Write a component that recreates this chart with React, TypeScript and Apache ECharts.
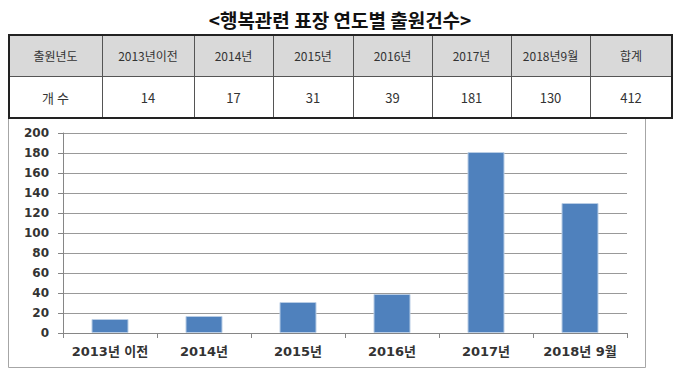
import React, { useEffect, useRef } from "react";
import * as echarts from "echarts";

const title = "<행복관련 표장 연도별 출원건수>";
const tableHeader = ["출원년도", "2013년이전", "2014년", "2015년", "2016년", "2017년", "2018년9월", "합계"];
const tableRow = ["개 수", "14", "17", "31", "39", "181", "130", "412"];
const categories = ["2013년 이전", "2014년", "2015년", "2016년", "2017년", "2018년 9월"];
const values = [14, 17, 31, 39, 181, 130];
const yTicks = { min: 0, max: 200, interval: 20 };

const colX = [9, 102, 194, 273, 353, 432, 511, 590, 672];
const tTop = 35, tMid = 76, tBot = 118;

export default function App() {
  const ref = useRef<HTMLDivElement>(null);
  useEffect(() => {
    document.body.style.margin = "0";
    const chart = echarts.init(ref.current!, null, { renderer: "svg" });
    const g: any[] = [];
    // chart frame
    g.push({ type: "rect", shape: { x: 8.5, y: 116.5, width: 637, height: 251 }, style: { fill: "#fff", stroke: "#a6a6a6", lineWidth: 1 }, z: 0 });
    // title
    g.push({ type: "text", x: 340, y: 19, style: { text: title, font: "bold 19px 'Noto Sans CJK KR'", fill: "#111", align: "center", verticalAlign: "middle" } });
    // table backgrounds
    g.push({ type: "rect", shape: { x: colX[0], y: tTop, width: colX[8] - colX[0], height: tMid - tTop }, style: { fill: "#d9d9d9" } });
    g.push({ type: "rect", shape: { x: colX[0], y: tMid, width: colX[8] - colX[0], height: tBot - tMid }, style: { fill: "#fff" } });
    // inner lines
    for (let i = 1; i < colX.length - 1; i++) {
      g.push({ type: "line", shape: { x1: colX[i] + 0.5, y1: tTop, x2: colX[i] + 0.5, y2: tBot }, style: { stroke: "#555", lineWidth: 1 } });
    }
    g.push({ type: "line", shape: { x1: colX[0], y1: tMid + 0.5, x2: colX[8], y2: tMid + 0.5 }, style: { stroke: "#555", lineWidth: 1 } });
    g.push({ type: "rect", shape: { x: colX[0], y: tTop, width: colX[8] - colX[0], height: tBot - tTop }, style: { fill: "none", stroke: "#222", lineWidth: 2 } });
    for (let i = 0; i < tableHeader.length; i++) {
      const cx = (colX[i] + colX[i + 1]) / 2;
      g.push({ type: "text", x: cx, y: (tTop + tMid) / 2, style: { text: tableHeader[i], font: "12px 'Noto Sans CJK KR'", fill: "#333", align: "center", verticalAlign: "middle" } });
      g.push({ type: "text", x: cx, y: (tMid + tBot) / 2, style: { text: tableRow[i], font: "13px 'Noto Sans CJK KR'", fill: "#333", align: "center", verticalAlign: "middle" } });
    }
    chart.setOption({
      animation: false,
      graphic: g,
      grid: { left: 63, right: 53, top: 133, bottom: 46 },
      xAxis: {
        type: "category",
        data: categories,
        axisLine: { lineStyle: { color: "#868686" } },
        axisTick: { show: true, length: 5, lineStyle: { color: "#868686" } },
        axisLabel: { interval: 0, color: "#333", fontWeight: "bold", fontSize: 13, fontFamily: "'DejaVu Sans', 'Noto Sans CJK KR'", margin: 12 },
      },
      yAxis: {
        type: "value",
        min: yTicks.min,
        max: yTicks.max,
        interval: yTicks.interval,
        axisLine: { show: true, lineStyle: { color: "#868686" } },
        axisTick: { show: true, length: 5, lineStyle: { color: "#868686" } },
        axisLabel: { color: "#333", fontWeight: "bold", fontSize: 12, fontFamily: "'DejaVu Sans', sans-serif", margin: 14 },
        splitLine: { lineStyle: { color: "#999" } },
      },
      series: [
        {
          type: "bar",
          data: values,
          barWidth: 37,
          itemStyle: { color: "#4f81bd", borderColor: "#b9cde5", borderWidth: 1 },
        },
      ],
    });
    return () => chart.dispose();
  }, []);
  return <div ref={ref} style={{ width: 680, height: 379 }} />;
}
